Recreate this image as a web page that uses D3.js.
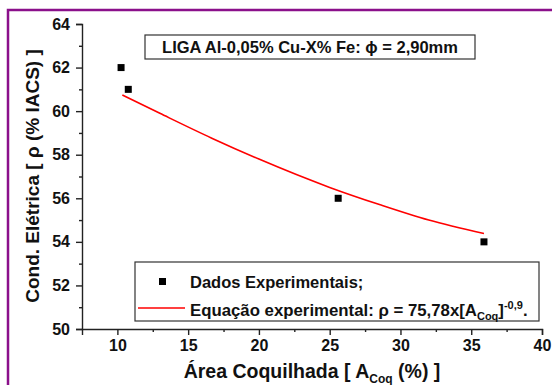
<!DOCTYPE html>
<html>
<head>
<meta charset="utf-8">
<script src="https://cdn.jsdelivr.net/npm/d3@7"></script>
<style>
  body { margin: 0; background: #fff; }
  text { font-family: "Liberation Sans", Arial, sans-serif; font-weight: bold; fill: #111; }
</style>
</head>
<body>
<div id="chart"></div>
<script>
// data
var areaCoq = [10.26, 10.77, 25.6, 35.9];
var condEletrica = [62, 61, 56, 54];
var fitArea = [10.35, 13, 16.67, 20, 25, 28.57, 32, 35.9];
var fitCond = [60.74, 59.9, 58.76, 57.8, 56.5, 55.7, 55.0, 54.38];
var xTicks = [10, 15, 20, 25, 30, 35, 40];
var xMinor = [12.5, 17.5, 22.5, 27.5, 32.5, 37.5];
var yTicks = [50, 52, 54, 56, 58, 60, 62, 64];
var yMinor = [51, 53, 55, 57, 59, 61, 63];

var svgWidth = 552, svgHeight = 385;
var margin = {top: 24, right: 10, bottom: 56, left: 82};
var chartWidth = 542 - margin.left;
var chartHeight = 329 - margin.top;

var svg = d3.select("#chart").append("svg")
    .attr("width", svgWidth)
    .attr("height", svgHeight);

// purple frame, runs off right and bottom
svg.append("rect")
    .attr("x", 8).attr("y", 10)
    .attr("width", 600).attr("height", 420)
    .attr("fill", "none")
    .attr("stroke", "#8b108b")
    .attr("stroke-width", 2.5);

var chartGroup = svg.append("g")
    .attr("transform", `translate(${margin.left}, ${margin.top})`);

var xScale = d3.scaleLinear().domain([7.5, 40]).range([0, chartWidth]);
var yScale = d3.scaleLinear().domain([50, 64]).range([chartHeight, 0]);

// axes
chartGroup.append("g")
    .attr("transform", `translate(0, ${chartHeight})`)
    .call(d3.axisBottom(xScale).tickValues(xTicks).tickSize(6).tickPadding(5).tickFormat(d3.format("d")));
chartGroup.append("g")
    .attr("transform", `translate(0, ${chartHeight})`)
    .call(d3.axisBottom(xScale).tickValues(xMinor).tickSize(3).tickFormat(""))
    .call(g => g.select(".domain").remove());

chartGroup.append("g")
    .call(d3.axisLeft(yScale).tickValues(yTicks).tickSize(6).tickPadding(6).tickFormat(d3.format("d")));
chartGroup.append("g")
    .call(d3.axisLeft(yScale).tickValues(yMinor).tickSize(3).tickFormat(""))
    .call(g => g.select(".domain").remove());

chartGroup.selectAll(".domain, .tick line")
    .attr("stroke", "#222")
    .attr("stroke-width", 1.4);
chartGroup.selectAll(".tick text")
    .style("font-size", "16px")
    .style("font-family", "Liberation Sans, Arial, sans-serif")
    .style("font-weight", "bold")
    .attr("fill", "#111");

// fitted curve
var fitData = fitArea.map((a, i) => ({a: a, c: fitCond[i]}));
var line = d3.line()
    .x(d => xScale(d.a))
    .y(d => yScale(d.c))
    .curve(d3.curveMonotoneX);
chartGroup.append("path")
    .datum(fitData)
    .attr("d", line)
    .attr("fill", "none")
    .attr("stroke", "red")
    .attr("stroke-width", 1.6);

// experimental points
var pts = areaCoq.map((a, i) => ({a: a, c: condEletrica[i]}));
chartGroup.append("g").selectAll("rect")
    .data(pts)
    .enter()
    .append("rect")
    .attr("x", d => xScale(d.a) - 3.5)
    .attr("y", d => yScale(d.c) - 3.5)
    .attr("width", 7)
    .attr("height", 7)
    .attr("fill", "#000");

// title box
svg.append("rect")
    .attr("x", 145).attr("y", 35)
    .attr("width", 330).attr("height", 24)
    .attr("fill", "#fff")
    .attr("stroke", "#333")
    .attr("stroke-width", 1.2);
svg.append("text")
    .attr("x", 310).attr("y", 53)
    .attr("text-anchor", "middle")
    .style("font-size", "16.5px")
    .text("LIGA Al-0,05% Cu-X% Fe: \u03D5 = 2,90mm");

// legend
svg.append("rect")
    .attr("x", 135).attr("y", 262)
    .attr("width", 404).attr("height", 59)
    .attr("fill", "#fff")
    .attr("stroke", "#333")
    .attr("stroke-width", 1.2);
svg.append("rect")
    .attr("x", 159).attr("y", 278)
    .attr("width", 7).attr("height", 7)
    .attr("fill", "#000");
svg.append("text")
    .attr("x", 190).attr("y", 288)
    .style("font-size", "16.5px")
    .text("Dados Experimentais;");
svg.append("line")
    .attr("x1", 138).attr("x2", 185)
    .attr("y1", 308).attr("y2", 308)
    .attr("stroke", "red")
    .attr("stroke-width", 1.6);
var eq = svg.append("text")
    .attr("x", 190).attr("y", 316)
    .style("font-size", "16.8px");
eq.append("tspan").text("Equação experimental: ρ = 75,78x[A");
eq.append("tspan").attr("dy", 4).style("font-size", "11px").text("Coq");
eq.append("tspan").attr("dy", -4).text("]");
eq.append("tspan").attr("dy", -7).style("font-size", "11px").text("-0,9");
eq.append("tspan").attr("dy", 7).text(".");

// axis titles
var xt = svg.append("text")
    .attr("x", 312).attr("y", 378)
    .attr("text-anchor", "middle")
    .style("font-size", "19.5px");
xt.append("tspan").text("Área Coquilhada [ A");
xt.append("tspan").attr("dy", 5).style("font-size", "12px").text("Coq");
xt.append("tspan").attr("dy", -5).text(" (%) ]");

svg.append("text")
    .attr("transform", "translate(39, 176) rotate(-90)")
    .attr("text-anchor", "middle")
    .style("font-size", "19px")
    .text("Cond. Elétrica [ ρ (% IACS) ]");
</script>
</body>
</html>
